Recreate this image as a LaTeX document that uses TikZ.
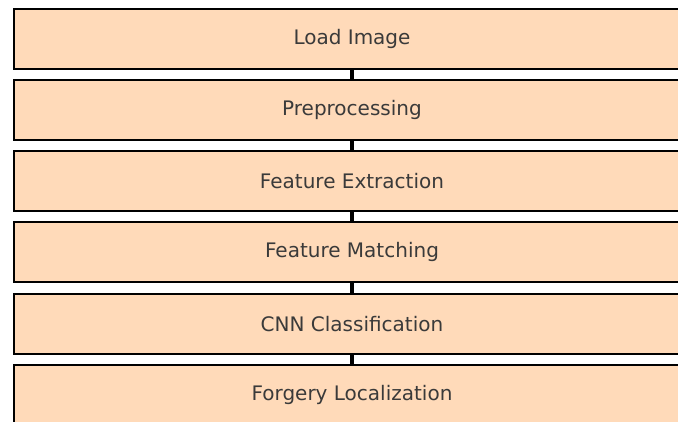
\documentclass[tikz,border=0pt]{standalone}
\usepackage{fontspec}
\setmainfont{DejaVu Sans}
\definecolor{peach}{HTML}{FFDAB9}
\definecolor{txt}{HTML}{3A3A3A}
\begin{document}
\begin{tikzpicture}[x=1pt,y=-1pt,
  stepbox/.style={draw=black, line width=2pt, fill=peach, minimum width=676pt, minimum height=60pt,
    inner sep=0pt, anchor=north west},
  label/.style={text=txt, font=\fontsize{20}{24}\selectfont},
  link/.style={draw=black, line width=3.5pt}]
\useasboundingbox (0,0) rectangle (678,421);
\clip (0,0) rectangle (678,421);
\node[stepbox] (a) at (13,8) {};
\node[stepbox] (b) at (13,79) {};
\node[stepbox] (c) at (13,150) {};
\node[stepbox] (d) at (13,221) {};
\node[stepbox] (e) at (13,293) {};
\node[stepbox] (f) at (13,364) {};
\node[label] (ta) at (a.center) {Load Image};
\node[label] (tb) at (b.center) {Preprocessing};
\node[label] (tc) at (c.center) {Feature Extraction};
\node[label] (td) at (d.center) {Feature Matching};
\node[label] (te) at (e.center) {CNN Classification};
\node[label] (tf) at (f.center) {Forgery Localization};
\draw[link] (a.south) -- (b.north);
\draw[link] (b.south) -- (c.north);
\draw[link] (c.south) -- (d.north);
\draw[link] (d.south) -- (e.north);
\draw[link] (e.south) -- (f.north);
\end{tikzpicture}
\end{document}
